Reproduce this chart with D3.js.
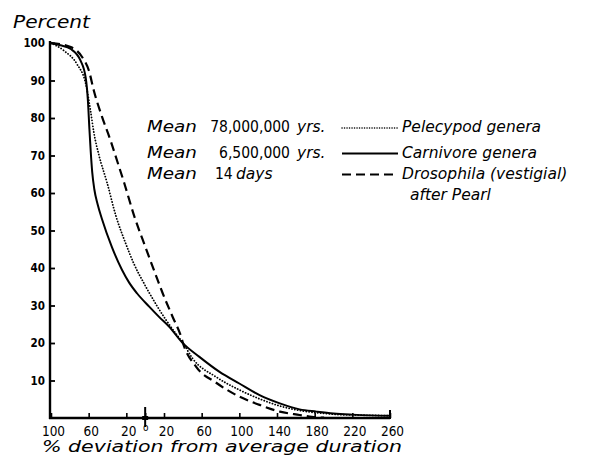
<!DOCTYPE html>
<html>
<head>
<meta charset="utf-8">
<script src="https://cdn.jsdelivr.net/npm/d3@7"></script>
<style>
  html, body { margin: 0; padding: 0; background: #fff; }
  svg { display: block; }
</style>
</head>
<body>
<script>
// ---------------- DATA ----------------
const xTickValues = [-100, -60, -20, 0, 20, 60, 100, 140, 180, 220, 260];
const xTickLabels = ["100", "60", "20", "o", "20", "60", "100", "140", "180", "220", "260"];
const yTickValues = [10, 20, 30, 40, 50, 60, 70, 80, 90, 100];

// Pelecypod genera (dotted): % deviation from average duration vs percent
const pelecypodDev = [-100, -86, -72.5, -63, -58, -54.4, -49, -40.5, -31.2, -20.6, -11.7, -1, 4.3, 22, 36, 40, 50, 75, 100, 121.5, 143, 164, 182, 200, 220, 240, 260];
const pelecypodPct = [100, 97.9, 94.4, 89, 81.9, 76, 70, 62.8, 54, 46.5, 41, 35.8, 33.4, 26.2, 21.4, 20.1, 16, 11, 7.5, 5.1, 3.2, 2.0, 1.4, 1.0, 0.8, 0.7, 0.6];

// Carnivore genera (solid)
const carnivoreDev = [-100, -90, -79, -68.6, -63.2, -60.8, -59.2, -57.8, -56.2, -54, -50.5, -45.8, -35.2, -17, -8.5, 4.3, 15, 25.6, 39.4, 57.6, 79, 100, 121.5, 143, 164, 182, 200, 220, 240, 260];
const carnivorePct = [100, 99.4, 98.4, 95.3, 90.8, 84.6, 77, 71, 65.5, 61, 57, 53, 45.5, 36.1, 33.2, 29.7, 26.9, 24.3, 20.1, 16.3, 12.3, 9.2, 6.1, 3.9, 2.3, 1.7, 1.2, 0.9, 0.7, 0.6];

// Drosophila (vestigial) after Pearl (dashed)
const drosophilaDev = [-100, -79, -66.8, -59.7, -54.4, -45.5, -36.6, -29.3, -22.4, -11.7, 0.7, 13.1, 18.4, 29.1, 38.1, 40, 54, 75.4, 100, 121.5, 143, 164, 177, 190];
const drosophilaPct = [100, 98.9, 96.2, 92.6, 87.2, 80.1, 73.9, 68.2, 62.8, 53.9, 45.3, 36.9, 33.4, 27, 21.7, 20.1, 13.7, 9.4, 5.7, 3.5, 1.7, 0.8, 0.3, 0.1];

const legendMeans = ["Mean", "Mean", "Mean"];
const legendValues = ["78,000,000", "6,500,000", "14"];
const legendUnits = ["yrs.", "yrs.", "days"];
const legendNames = ["Pelecypod  genera", "Carnivore genera", "Drosophila (vestigial)"];
const legendNote = "after Pearl";
const yTitle = "Percent";
const xTitle = "% deviation from average duration";

// ---------------- CHART ----------------
const W = 614, H = 459;
const svg = d3.select("body").append("svg").attr("width", W).attr("height", H)
  .style("font-family", "'DejaVu Sans', 'Liberation Sans', sans-serif");
svg.append("rect").attr("width", W).attr("height", H).attr("fill", "#fff");

const x = d3.scaleLinear().domain([-100, 260]).range([51, 390]);
const y = d3.scaleLinear().domain([0, 100]).range([418, 43]);
const cond = "'DejaVu Sans Condensed', 'DejaVu Sans', sans-serif";

// Y axis
const yAxis = d3.axisLeft(y).tickValues(yTickValues).tickSize(-5).tickSizeOuter(0).tickPadding(5);
const gy = svg.append("g").attr("transform", "translate(50,0)").call(yAxis);
gy.select(".domain").remove();
gy.selectAll(".tick line").attr("stroke", "#000").attr("stroke-width", 1.8);
gy.selectAll(".tick text").attr("fill", "#000").attr("font-size", 11.5).attr("font-weight", "bold")
  .attr("font-family", cond);
svg.append("line").attr("x1", 50).attr("x2", 50).attr("y1", 41).attr("y2", y(0) + 1)
  .attr("stroke", "#000").attr("stroke-width", 2.4);

// X axis
const xAxis = d3.axisBottom(x).tickValues(xTickValues).tickSize(-5).tickSizeOuter(0).tickPadding(8)
  .tickFormat((d, i) => xTickLabels[i]);
const gx = svg.append("g").attr("transform", `translate(0,${y(0)})`).call(xAxis);
gx.select(".domain").remove();
gx.selectAll(".tick line").attr("stroke", "#000").attr("stroke-width", 1.6);
gx.selectAll(".tick text").attr("fill", "#000").attr("font-size", 13.5)
  .attr("font-family", cond).attr("dx", 2);
gx.selectAll(".tick").filter(d => d === 0).select("text")
  .attr("font-size", 10).attr("dx", 0).attr("dy", "0.5em");
svg.append("line").attr("x1", 49).attr("x2", x(260)).attr("y1", y(0)).attr("y2", y(0))
  .attr("stroke", "#000").attr("stroke-width", 2.4);
// zero cross mark
svg.append("line").attr("x1", x(0)).attr("x2", x(0)).attr("y1", y(0) - 11).attr("y2", y(0) + 9)
  .attr("stroke", "#000").attr("stroke-width", 2);
svg.append("line").attr("x1", x(0) - 3).attr("x2", x(0) + 3).attr("y1", y(0)).attr("y2", y(0))
  .attr("stroke", "#000").attr("stroke-width", 4);
// right end tick
svg.append("line").attr("x1", x(260)).attr("x2", x(260)).attr("y1", y(0) - 8).attr("y2", y(0) + 1)
  .attr("stroke", "#000").attr("stroke-width", 2);

// Curves
const line = d3.line().x(d => x(d[0])).y(d => y(d[1])).curve(d3.curveMonotoneX);
const zip = (a, b) => a.map((v, i) => [v, b[i]]);

svg.append("path").datum(zip(carnivoreDev, carnivorePct)).attr("d", line)
  .attr("fill", "none").attr("stroke", "#000").attr("stroke-width", 2);
svg.append("path").datum(zip(pelecypodDev, pelecypodPct)).attr("d", line)
  .attr("fill", "none").attr("stroke", "#000").attr("stroke-width", 1.8)
  .attr("stroke-dasharray", "0.1,2.8").attr("stroke-linecap", "round");
svg.append("path").datum(zip(drosophilaDev, drosophilaPct)).attr("d", line)
  .attr("fill", "none").attr("stroke", "#000").attr("stroke-width", 2.2)
  .attr("stroke-dasharray", "9,5");

// Titles
svg.append("text").attr("x", 13).attr("y", 28).text(yTitle)
  .attr("font-size", 18).attr("font-style", "italic").attr("textLength", 77).attr("lengthAdjust", "spacingAndGlyphs");
svg.append("text").attr("x", 42).attr("y", 452).text(xTitle)
  .attr("font-size", 15).attr("font-style", "italic").attr("textLength", 360).attr("lengthAdjust", "spacingAndGlyphs");

// Legend
const rowBase = [132, 157.5, 178.5];
const g = svg.append("g").attr("font-size", 15.5);
legendMeans.forEach((m, i) => {
  const b = rowBase[i];
  g.append("text").attr("x", 147).attr("y", b).text(m).attr("font-style", "italic")
    .attr("textLength", 50).attr("lengthAdjust", "spacingAndGlyphs");
  if (i < 2) {
    g.append("text").attr("x", 290).attr("y", b).attr("text-anchor", "end").text(legendValues[i])
      .attr("font-family", cond);
    g.append("text").attr("x", 297).attr("y", b).text(legendUnits[i]).attr("font-style", "italic");
  } else {
    g.append("text").attr("x", 215).attr("y", b).text(legendValues[i]).attr("font-family", cond);
    g.append("text").attr("x", 236).attr("y", b).text(legendUnits[i]).attr("font-style", "italic");
  }
  const ly = b - 4;
  const seg = g.append("line").attr("x1", 342).attr("x2", 398).attr("y1", ly).attr("y2", ly)
    .attr("stroke", "#000");
  if (i === 0) seg.attr("stroke-width", 1.5).attr("stroke-dasharray", "0.1,2.4").attr("stroke-linecap", "round");
  if (i === 1) seg.attr("stroke-width", 1.8);
  if (i === 2) seg.attr("stroke-width", 2).attr("stroke-dasharray", "9,5");
  g.append("text").attr("x", 402).attr("y", b).text(legendNames[i]).attr("font-style", "italic");
});
g.append("text").attr("x", 410).attr("y", 200).text(legendNote).attr("font-style", "italic");
</script>
</body>
</html>
